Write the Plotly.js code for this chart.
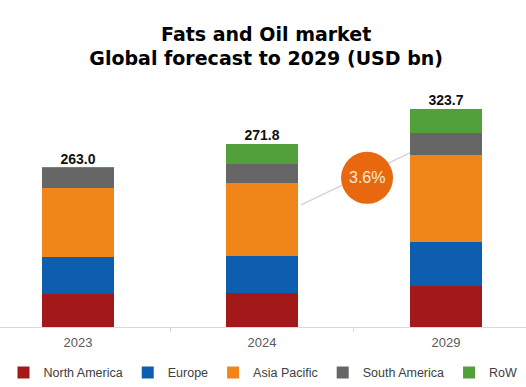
<!DOCTYPE html>
<html>
<head>
<meta charset="utf-8">
<script src="https://cdn.plot.ly/plotly-3.0.1.min.js"></script>
<style>html,body{margin:0;padding:0;background:#fff;}#chart{width:526px;height:387px;}</style>
</head>
<body>
<div id="chart"></div>
<script>
var years = ['2023', '2024', '2029'];
var northAmerica = [48.9, 51.0, 60.1];
var europe = [54.4, 53.8, 65.2];
var asiaPacific = [103.1, 108.6, 129.9];
var southAmerica = [28.7, 28.7, 32.1];
var restOfWorld = [1.5, 29.6, 36.0];
var totalLabels = ['263.0', '271.8', '323.7'];
var cagrLabel = '3.6%';

var seriesNames = ['North America', 'Europe', 'Asia Pacific', 'South America', 'RoW'];
var seriesValues = [northAmerica, europe, asiaPacific, southAmerica, restOfWorld];
var seriesColors = ['#a3191a', '#0d5eaf', '#f08519', '#666666', '#52a03a'];

var traces = seriesNames.map(function (name, i) {
  return {
    type: 'bar', name: name, x: years, y: seriesValues[i],
    marker: {color: seriesColors[i], line: {width: 0}},
    hoverinfo: 'skip'
  };
});

var stackTops = years.map(function (_, j) {
  return seriesValues.reduce(function (s, arr) { return s + arr[j]; }, 0);
});

traces.push({
  type: 'scatter', mode: 'text', x: years, y: stackTops,
  text: totalLabels.map(function (t) { return '<b>' + t + '</b>'; }),
  textposition: 'top center',
  textfont: {family: 'Liberation Sans, Arial, sans-serif', size: 14, color: '#111111'},
  showlegend: false, cliponaxis: false, hoverinfo: 'skip'
});

var layout = {
  width: 526, height: 387,
  margin: {l: 0, r: 0, t: 80, b: 60, autoexpand: false},
  paper_bgcolor: '#ffffff', plot_bgcolor: '#ffffff',
  barmode: 'stack', bargap: 0.61,
  showlegend: true,
  title: {
    text: '<b>Fats and Oil market<br>Global forecast to 2029 (USD bn)</b>',
    font: {family: 'DejaVu Sans, Liberation Sans, Arial, sans-serif', size: 19, color: '#000000'},
    x: 0.506, xanchor: 'center', y: 0.895, yref: 'container', yanchor: 'top'
  },
  xaxis: {
    type: 'category', range: [-0.424, 2.435],
    showline: true, linecolor: '#d9d9d9', linewidth: 1,
    ticks: 'outside', tickson: 'boundaries', ticklen: 4, tickcolor: '#d9d9d9',
    ticklabelstandoff: 3,
    tickfont: {family: 'Liberation Sans, Arial, sans-serif', size: 13, color: '#595959'},
    showgrid: false, zeroline: false, fixedrange: true
  },
  yaxis: {visible: false, range: [0, 366], showgrid: false, zeroline: false, fixedrange: true},
  legend: {
    orientation: 'h', x: 0.5, xanchor: 'center', y: -0.125, yanchor: 'top',
    font: {family: 'Liberation Sans, Arial, sans-serif', size: 12.5, color: '#404040'},
    itemwidth: 30, traceorder: 'normal', bgcolor: 'rgba(0,0,0,0)'
  },
  shapes: [
    {type: 'line', xref: 'x', yref: 'y', x0: 1.212, y0: 181, x1: 1.804, y1: 258,
     line: {color: '#d4d4d4', width: 1.5}, layer: 'above'},
    {type: 'circle', xref: 'x', yref: 'y', xsizemode: 'pixel', ysizemode: 'pixel',
     xanchor: 1.571, yanchor: 221, x0: -26, x1: 26, y0: -26, y1: 26,
     fillcolor: '#e8680f', line: {color: '#e8680f', width: 0}, layer: 'above'}
  ],
  annotations: [
    {xref: 'x', yref: 'y', x: 1.571, y: 221, text: cagrLabel, showarrow: false,
     font: {family: 'Liberation Sans, Arial, sans-serif', size: 16, color: '#fdebd3'}}
  ]
};

Plotly.newPlot('chart', traces, layout, {displayModeBar: false, staticPlot: true});
</script>
</body>
</html>
